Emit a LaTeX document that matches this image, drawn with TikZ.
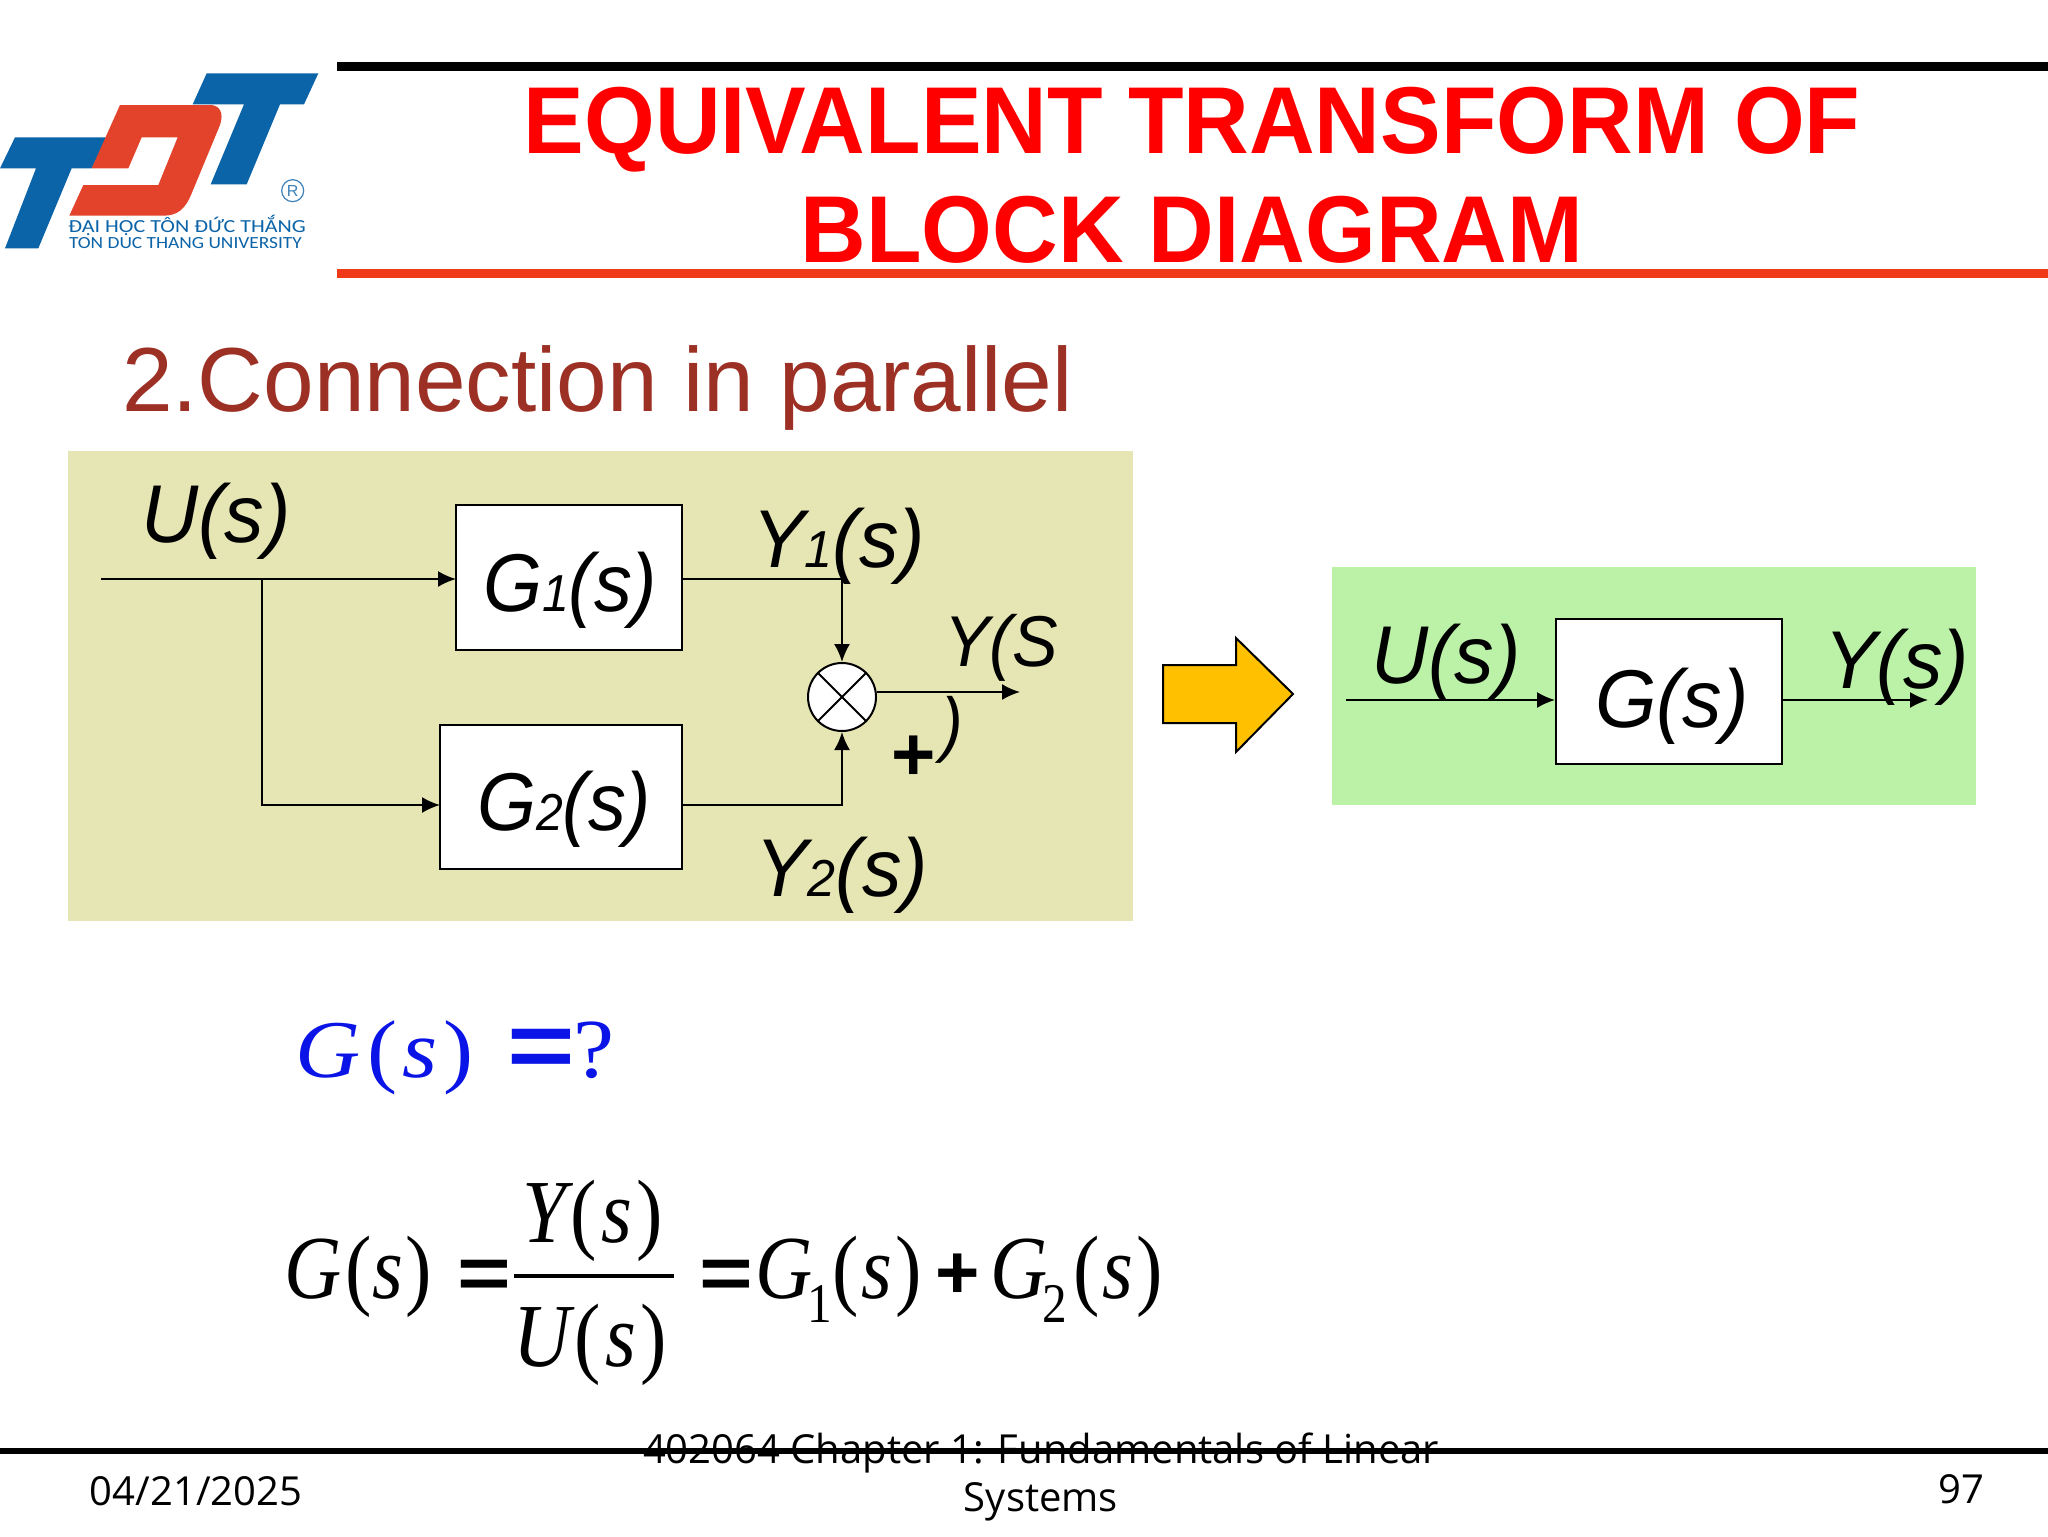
\documentclass[tikz,border=0pt]{standalone}
\usepackage{fontspec}
\setmainfont{Liberation Sans}
\newfontfamily\serifF{Liberation Serif}
\newfontfamily\footF{Open Sans}
\newfontfamily\logoF{Carlito}
\usetikzlibrary{arrows.meta}
\definecolor{panelY}{HTML}{E6E6B4}
\definecolor{panelG}{HTML}{BBF2A8}
\definecolor{logoBlue}{HTML}{0B63A8}
\definecolor{logoRed}{HTML}{E2432A}
\definecolor{headBrown}{HTML}{9C3024}
\definecolor{rule}{HTML}{F03A17}
\definecolor{amber}{HTML}{FFC000}
\definecolor{eqBlue}{HTML}{0A14E6}
\newcommand{\lbl}[1]{\scalebox{.965}[1]{\fontsize{41}{46}\selectfont\itshape #1}}
\newcommand{\lblg}[1]{\scalebox{.925}[1]{\fontsize{41}{46}\selectfont\itshape #1}}
\newcommand{\sbs}[1]{{\fontsize{26}{30}\selectfont #1}}
\newcommand{\sF}[1]{\scalebox{.88}[1]{\serifF\fontsize{45}{50}\selectfont #1}}
\newcommand{\eqSign}[1]{\scalebox{1}[.8]{\fontsize{#1}{#1}\selectfont\bfseries =}}
\newcommand{\up}[1]{{\upshape #1}}
\begin{document}
\begin{tikzpicture}[x=0.5pt,y=-0.5pt,
  txt/.style={inner sep=0pt,outer sep=0pt,anchor=base west},
  blockbox/.style={draw=black,fill=white,line width=1pt,inner sep=0pt},
  sig/.style={line width=1pt,draw=black},
  arr/.style={sig,-{Latex[length=9pt,width=8pt]}},
  foot/.style={inner sep=0pt,outer sep=0pt,anchor=base,font=\footF\fontsize{20}{24}\selectfont}]
\useasboundingbox (0,0) rectangle (2048,1536);
\fill[white] (0,0) rectangle (2048,1536);
% logo
\begin{scope}[shift={(0,50)},x=0.16667pt,y=-0.16667pt]
\fill[logoBlue] (45,262)--(320,262)--(275,355)--(215,355)--(115,595)--(15,595)--(108,355)--(0,355)--cycle;
\fill[logoBlue] (620,70)--(955,70)--(912,163)--(840,163)--(740,403)--(632,403)--(732,163)--(578,163)--cycle;
\fill[logoRed] (360,165)--(630,165) .. controls (660,165) and (672,190) .. (660,225)--(575,430) .. controls (555,480) and (530,497) .. (490,497)--(208,497)--(250,405)--(475,405)--(533,262)--(425,262)--(385,355)--(275,355)--cycle;
\node[draw=logoBlue!80!white,line width=.6pt,circle,minimum size=11pt,inner sep=0pt,text=logoBlue!80!white,font=\fontsize{8}{9}\selectfont] (reg) at (878,422) {R};
\node[txt,text=logoBlue] (logoa) at (205,548) {\scalebox{1.2}[1]{\logoF\fontsize{9.2}{10}\selectfont ĐẠI HỌC TÔN ĐỨC THẮNG}};
\node[txt,text=logoBlue] (logob) at (207,595) {\scalebox{1.14}[1]{\logoF\fontsize{8.5}{10}\selectfont TON DUC THANG UNIVERSITY}};
\end{scope}
% header rules
\draw[line width=4.5pt,black] (337,67) -- (2048,67);
\draw[line width=4.5pt,rule] (337,273) -- (2048,273);
\node[txt,text=red,anchor=base] (t1) at (1192,153) {\scalebox{.957}[1]{\fontsize{47.5}{50}\selectfont\bfseries EQUIVALENT TRANSFORM OF}};
\node[txt,text=red,anchor=base] (t2) at (1192,262) {\scalebox{.957}[1]{\fontsize{47.5}{50}\selectfont\bfseries BLOCK DIAGRAM}};
\node[txt,text=headBrown] (sub) at (122,411) {\fontsize{45.5}{48}\selectfont 2.Connection in parallel};
% panels
\fill[panelY] (68,451) rectangle (1133,921);
\fill[panelG] (1332,567) rectangle (1976,805);
% left blocks
\node[blockbox,minimum width=113pt,minimum height=72.5pt] (g1) at (569,577.5) {};
\node[blockbox,minimum width=121pt,minimum height=72pt] (g2) at (561,797) {};
\node[draw=black,fill=white,line width=1pt,circle,minimum size=34pt,inner sep=0pt] (sum) at (842,697) {};
\draw[line width=1pt] (sum.45)--(sum.225) (sum.135)--(sum.315);
\coordinate (uin) at (101,579);
\coordinate (tap) at (262,579);
\coordinate (tapd) at (262,805);
\coordinate (g1e) at (682,579);
\coordinate (c1) at (842,579);
\coordinate (c2) at (842,805);
\coordinate (g2e) at (682,805);
\coordinate (yout) at (1020,692);
\coordinate (g1w) at (456,579);
\coordinate (g2w) at (440,805);
\coordinate (sume) at (877,692);
\draw[arr] (uin) -- (g1w);
\draw[arr] (tap) -- (tapd) -- (g2w);
\draw[arr] (g1e) -- (c1) -- (sum.north);
\draw[arr] (g2e) -- (c2) -- (sum.south);
\draw[arr] (sume) -- (yout);
% right blocks
\node[blockbox,minimum width=113pt,minimum height=72.5pt] (g) at (1668.5,691.5) {};
\coordinate (rin) at (1346,700);
\coordinate (gw) at (1555,700);
\coordinate (ge) at (1781,700);
\coordinate (rout) at (1928,700);
\draw[arr] (rin) -- (gw);
\draw[arr] (ge) -- (rout);
% block arrow
\draw[fill=amber,draw=black,line width=1pt] (1163,665)--(1236,665)--(1236,638)--(1293,694)--(1236,752)--(1236,723)--(1163,723)--cycle;
% labels
\node[txt] (lu) at (141,542) {\lbl{U(s)}};
\node[txt] (lg1) at (483,611) {\lblg{G\sbs{1}(s)}};
\node[txt] (lg2) at (477,830) {\lblg{G\sbs{2}(s)}};
\node[txt] (ly1) at (752,567) {\lbl{Y\sbs{1}(s)}};
\node[txt] (ly2) at (755,896) {\lbl{Y\sbs{2}(s)}};
\node[txt] (ly) at (944,666) {\scalebox{.95}[1]{\fontsize{36}{40}\selectfont\itshape Y(S}};
\node[txt] (lyc) at (941,748) {\scalebox{.9}[1]{\fontsize{36}{40}\selectfont\itshape )}};
\node[inner sep=0pt] (plus) at (914,758) {\fontsize{38}{42}\selectfont\bfseries +};
\node[txt] (ru) at (1371,683) {\lbl{U(s)}};
\node[txt] (rg) at (1595,727) {\lbl{G(s)}};
\node[txt] (ry) at (1824,688) {\lbl{Y(s)}};
% equations
\node[txt,text=eqBlue] (eq0) at (295,1077) {\scalebox{1.1}[1]{\serifF\fontsize{41}{46}\selectfont\itshape G\kern.08em\up{(}\kern.06em s\kern.06em\up{)}}};
\node[txt,text=eqBlue] (eq0b) at (507,1077) {\eqSign{58}};
\node[txt,text=eqBlue] (eq0c) at (573,1077) {\scalebox{1.1}[1]{\serifF\fontsize{42}{46}\selectfont ?}};
\node[txt] (eqa) at (284,1298) {\sF{\itshape G\kern.06em\up{(}s\kern.03em\up{)}}};
\node[txt] (eqe1) at (457,1298) {\eqSign{46}};
\coordinate (fa) at (514,1276);
\coordinate (fb) at (674,1276);
\draw[line width=2pt] (fa) -- (fb);
\node[txt] (eqy) at (522,1242) {\sF{\itshape Y\kern.05em\up{(}\kern.06em s\kern.06em\up{)}}};
\node[txt] (equ) at (513,1366) {\sF{\itshape U\kern.05em\up{(}\kern.06em s\kern.06em\up{)}}};
\node[txt] (eqe2) at (699,1298) {\eqSign{46}};
\node[txt] (eqg1) at (755,1298) {\sF{\itshape G\kern-.06em\raisebox{-.27em}{\fontsize{28}{32}\selectfont\upshape 1}\up{(}\kern.04em s\kern.04em\up{)}}};
\node[txt] (eqp) at (935,1298) {\fontsize{38}{42}\selectfont\bfseries +};
\node[txt] (eqg2) at (990,1298) {\sF{\itshape G\kern-.06em\raisebox{-.27em}{\fontsize{28}{32}\selectfont\upshape 2}\kern.08em\up{(}\kern.04em s\kern.04em\up{)}}};
% footer
\draw[line width=3pt,black] (0,1451) -- (2048,1451);
\node[foot] (fd) at (196,1505) {04/21/2025};
\node[foot] (fm) at (1041,1463) {402064 Chapter 1: Fundamentals of Linear};
\node[foot] (fm2) at (1041,1511) {Systems};
\node[foot] (fn) at (1961,1503) {97};
\end{tikzpicture}
\end{document}
